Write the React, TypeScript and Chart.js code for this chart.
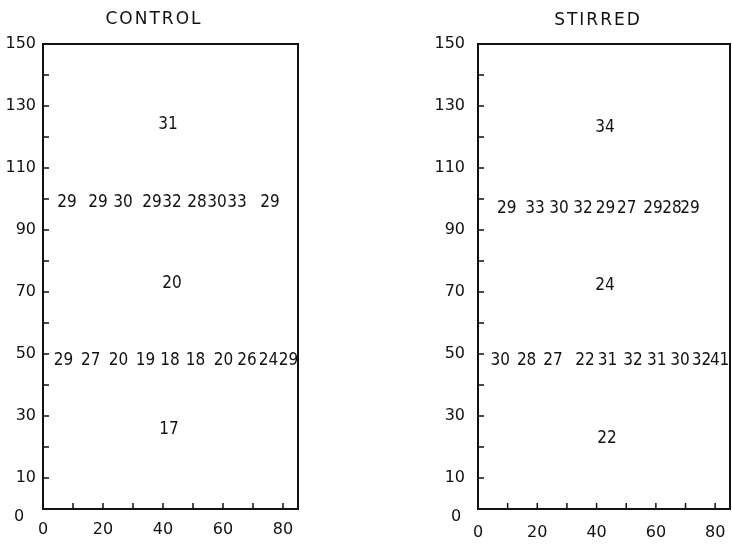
import React, { useEffect, useRef } from 'react';
import { Chart, registerables } from 'chart.js';

Chart.register(...registerables);

// ---- axis data ----
const X_MIN = 0;
const X_MAX = 85;
const Y_MIN = 0;
const Y_MAX = 150;
const X_TICK_VALUES = [0, 10, 20, 30, 40, 50, 60, 70, 80];
const X_TICK_LABELS = [0, 20, 40, 60, 80];
const Y_TICK_LABELS = [10, 30, 50, 70, 90, 110, 130, 150];

// ---- CONTROL panel ----
const CONTROL_TITLE = 'CONTROL';
const CONTROL_UPPER_X = [8, 18.3, 26.7, 36.3, 43, 51.3, 58, 64.7, 75.7];
const CONTROL_UPPER_VALUES = [29, 29, 30, 29, 32, 28, 30, 33, 29];
const CONTROL_UPPER_Y = 99;
const CONTROL_LOWER_X = [6.8, 15.9, 25.2, 34.2, 42.3, 50.8, 60.2, 68, 75.2, 81.8];
const CONTROL_LOWER_VALUES = [29, 27, 20, 19, 18, 18, 20, 26, 24, 29];
const CONTROL_LOWER_Y = 48;
const CONTROL_CENTRE_X = [41.7, 43, 42];
const CONTROL_CENTRE_Y = [124, 72.7, 25.5];
const CONTROL_CENTRE_VALUES = [31, 20, 17];

// ---- STIRRED panel ----
const STIRRED_TITLE = 'STIRRED';
const STIRRED_UPPER_X = [9.7, 19.2, 27.3, 35.4, 43, 50.2, 59, 65.4, 71.5];
const STIRRED_UPPER_VALUES = [29, 33, 30, 32, 29, 27, 29, 28, 29];
const STIRRED_UPPER_Y = 97;
const STIRRED_LOWER_X = [7.5, 16.4, 25.3, 36.1, 43.7, 52.3, 60.3, 68.1, 75.4, 81.5];
const STIRRED_LOWER_VALUES = [30, 28, 27, 22, 31, 32, 31, 30, 32, 41];
const STIRRED_LOWER_Y = 48;
const STIRRED_CENTRE_X = [42.8, 42.8, 43.5];
const STIRRED_CENTRE_Y = [123, 72, 22.7];
const STIRRED_CENTRE_VALUES = [34, 24, 22];

const INK = '#111';
const TICK_FONT_FAMILY = "'DejaVu Sans', sans-serif";
const LABEL_FONT = "17px 'DejaVu Sans Condensed', 'DejaVu Sans', sans-serif";
const TITLE_FONT = "17px 'DejaVu Sans', sans-serif";

type Row = { xs: number[]; ys: number[]; values: number[] };

interface PanelGeom {
  left: number;
  width: number;
  yAxisWidth: number;
  padRight: number;
  yLabelPad: number;
  xLabelPad: number;
  zeroDx: number;
  titleY: number;
}

const overlayPlugin = {
  id: 'overlay',
  afterDraw(chart: any, _args: any, opts: any) {
    const { ctx, chartArea: a, scales } = chart;
    const xs = scales.x;
    const ys = scales.y;
    ctx.save();
    // frame: top and right edges
    ctx.strokeStyle = INK;
    ctx.lineWidth = 2;
    ctx.beginPath();
    ctx.moveTo(a.left, a.top);
    ctx.lineTo(a.right, a.top);
    ctx.lineTo(a.right, a.bottom);
    ctx.stroke();
    // inward tick marks
    ctx.lineWidth = 1.5;
    ctx.beginPath();
    for (let v = 10; v < X_MAX; v += 10) {
      const px = xs.getPixelForValue(v);
      ctx.moveTo(px, a.bottom);
      ctx.lineTo(px, a.bottom - 6);
    }
    for (let v = 10; v < Y_MAX; v += 10) {
      const py = ys.getPixelForValue(v);
      ctx.moveTo(a.left, py);
      ctx.lineTo(a.left + 6, py);
    }
    ctx.stroke();
    ctx.fillStyle = INK;
    // y "0" label, set below the corner
    ctx.font = `16px ${TICK_FONT_FAMILY}`;
    ctx.textAlign = 'center';
    ctx.textBaseline = 'middle';
    ctx.fillText('0', a.left - opts.zeroDx, ys.getPixelForValue(0) + 8);
    // title
    ctx.font = TITLE_FONT;
    (ctx as any).letterSpacing = '2px';
    ctx.fillText(opts.title, chart.width / 2 + 1, opts.titleY);
    (ctx as any).letterSpacing = '0px';
    // value labels
    ctx.font = LABEL_FONT;
    chart.data.datasets.forEach((ds: any, di: number) => {
      const meta = chart.getDatasetMeta(di);
      meta.data.forEach((el: any, i: number) => {
        ctx.fillText(String(ds.valueLabels[i]), el.x, el.y);
      });
    });
    ctx.restore();
  },
};

function Panel({ title, rows, geom }: { title: string; rows: Row[]; geom: PanelGeom }) {
  const ref = useRef<HTMLCanvasElement | null>(null);
  useEffect(() => {
    if (!ref.current) return;
    const chart = new Chart(ref.current, {
      type: 'scatter',
      data: {
        datasets: rows.map((r) => ({
          data: r.xs.map((x, i) => ({ x, y: r.ys[i] })),
          valueLabels: r.values,
          pointRadius: 0,
          pointHoverRadius: 0,
          showLine: false,
        })) as any,
      },
      options: {
        responsive: false,
        animation: false,
        events: [],
        layout: { padding: { top: 44, right: geom.padRight, left: 0, bottom: 0 } },
        plugins: {
          legend: { display: false },
          tooltip: { enabled: false },
          title: { display: false },
          overlay: { title, zeroDx: geom.zeroDx, titleY: geom.titleY },
        } as any,
        scales: {
          x: {
            type: 'linear',
            min: X_MIN,
            max: X_MAX,
            grid: { display: false, drawTicks: false },
            border: { display: true, color: INK, width: 2 },
            afterBuildTicks: (s: any) => {
              s.ticks = X_TICK_VALUES.map((value) => ({ value }));
            },
            ticks: {
              autoSkip: false,
              maxRotation: 0,
              padding: geom.xLabelPad,
              color: INK,
              font: { family: TICK_FONT_FAMILY, size: 16 },
              callback: (v: any) => (X_TICK_LABELS.includes(Number(v)) ? String(v) : ''),
            },
            afterFit: (s: any) => {
              s.height = 35;
            },
          },
          y: {
            type: 'linear',
            min: Y_MIN,
            max: Y_MAX,
            grid: { display: false, drawTicks: false },
            border: { display: true, color: INK, width: 2 },
            ticks: {
              stepSize: 10,
              autoSkip: false,
              padding: geom.yLabelPad,
              color: INK,
              font: { family: TICK_FONT_FAMILY, size: 16 },
              callback: (v: any) => (Y_TICK_LABELS.includes(Number(v)) ? String(v) : ''),
            },
            afterFit: (s: any) => {
              s.width = geom.yAxisWidth;
            },
          },
        },
      },
      plugins: [overlayPlugin],
    } as any);
    return () => chart.destroy();
  }, []);
  return (
    <canvas
      ref={ref}
      width={geom.width}
      height={544}
      style={{ position: 'absolute', left: geom.left, top: 0, width: geom.width, height: 544 }}
    />
  );
}

const rowAt = (xs: number[], y: number, values: number[]): Row => ({
  xs,
  ys: xs.map(() => y),
  values,
});

export default function App() {
  const controlRows: Row[] = [
    rowAt(CONTROL_UPPER_X, CONTROL_UPPER_Y, CONTROL_UPPER_VALUES),
    rowAt(CONTROL_LOWER_X, CONTROL_LOWER_Y, CONTROL_LOWER_VALUES),
    { xs: CONTROL_CENTRE_X, ys: CONTROL_CENTRE_Y, values: CONTROL_CENTRE_VALUES },
  ];
  const stirredRows: Row[] = [
    rowAt(STIRRED_UPPER_X, STIRRED_UPPER_Y, STIRRED_UPPER_VALUES),
    rowAt(STIRRED_LOWER_X, STIRRED_LOWER_Y, STIRRED_LOWER_VALUES),
    { xs: STIRRED_CENTRE_X, ys: STIRRED_CENTRE_Y, values: STIRRED_CENTRE_VALUES },
  ];
  return (
    <div
      style={{
        position: 'absolute',
        left: 0,
        top: 0,
        width: 732,
        height: 544,
        overflow: 'hidden',
        background: '#fff',
      }}
    >
      <Panel
        title={CONTROL_TITLE}
        rows={controlRows}
        geom={{ left: 0, width: 306, yAxisWidth: 43, padRight: 8, yLabelPad: 7, xLabelPad: 11, zeroDx: 24, titleY: 20 }}
      />
      <Panel
        title={STIRRED_TITLE}
        rows={stirredRows}
        geom={{ left: 432, width: 330, yAxisWidth: 46, padRight: 32, yLabelPad: 13, xLabelPad: 14, zeroDx: 22, titleY: 21 }}
      />
    </div>
  );
}
